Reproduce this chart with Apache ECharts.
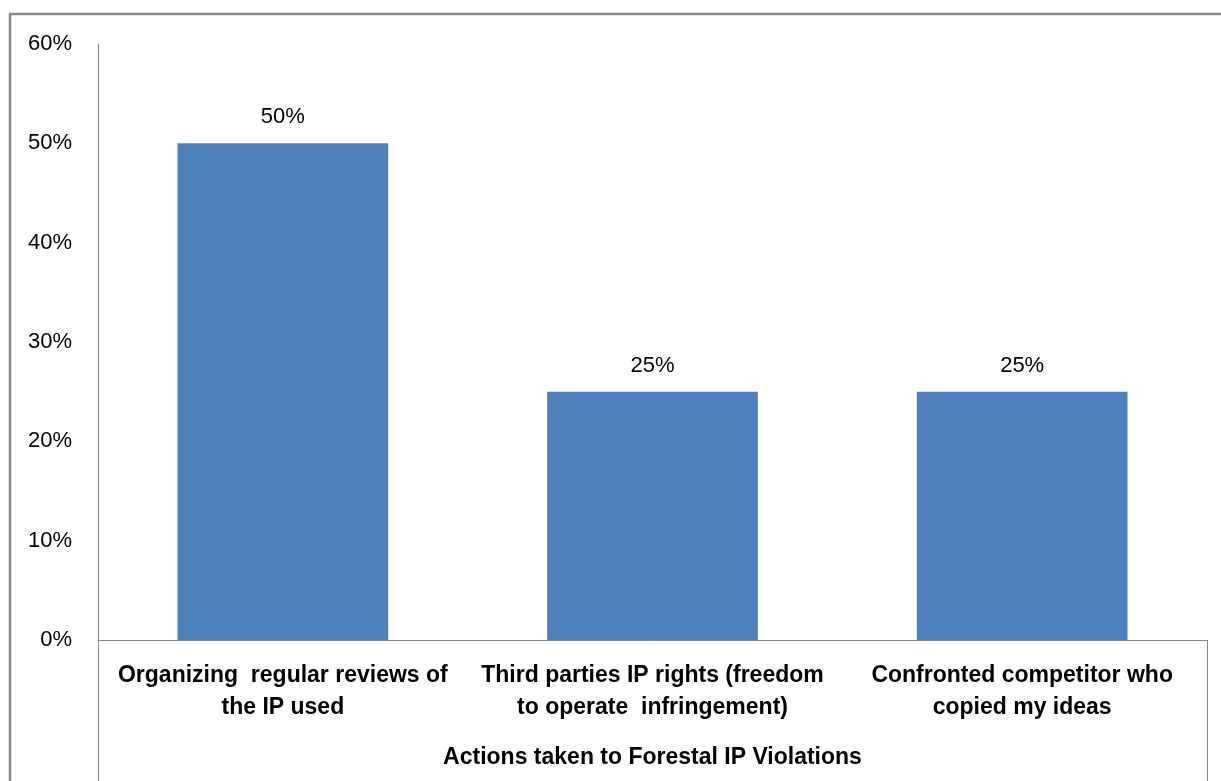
<!DOCTYPE html>
<html>
<head>
<meta charset="utf-8">
<script src="https://cdn.jsdelivr.net/npm/echarts@6/dist/echarts.min.js"></script>
<style>
html,body{margin:0;padding:0;background:#fff;}
#chart{width:1221px;height:781px;}
</style>
</head>
<body>
<div id="chart"></div>
<script>
const categories = [
  "Organizing  regular reviews of\nthe IP used",
  "Third parties IP rights (freedom\nto operate  infringement)",
  "Confronted competitor who\ncopied my ideas"
];
const values = [0.50, 0.25, 0.25];
const yTicks = [0, 0.1, 0.2, 0.3, 0.4, 0.5, 0.6];
const axisTitle = "Actions taken to Forestal IP Violations";

const FONT = "'Liberation Sans', Arial, sans-serif";
const chart = echarts.init(document.getElementById('chart'), null, {renderer: 'canvas'});
const gridLeft = 98, gridRight = 14, gridTop = 44, gridBottom = 141;

chart.setOption({
  animation: false,
  backgroundColor: '#ffffff',
  grid: {left: gridLeft, right: gridRight, top: gridTop, bottom: gridBottom, containLabel: false},
  xAxis: {
    type: 'category',
    data: categories,
    axisLine: {show: true, lineStyle: {color: '#878787', width: 1}},
    axisTick: {show: false},
    axisLabel: {
      interval: 0, margin: 20, color: '#000', fontFamily: FONT,
      fontSize: 23, fontWeight: 'bold', lineHeight: 32, align: 'center'
    },
    name: axisTitle,
    nameLocation: 'middle',
    nameGap: 118,
    nameTextStyle: {color: '#000', fontFamily: FONT, fontSize: 23, fontWeight: 'bold', verticalAlign: 'middle'}
  },
  yAxis: {
    type: 'value',
    min: yTicks[0], max: yTicks[yTicks.length - 1], interval: 0.1,
    axisLine: {show: true, lineStyle: {color: '#878787', width: 1}},
    axisTick: {show: false},
    splitLine: {show: false},
    axisLabel: {
      margin: 26, color: '#000', fontFamily: FONT, fontSize: 22,
      formatter: v => Math.round(v * 100) + '%'
    }
  },
  series: [{
    type: 'bar',
    data: values,
    barWidth: '57%',
    itemStyle: {color: '#4F81BD'},
    label: {
      show: true, position: 'top', distance: 15, color: '#000',
      fontFamily: FONT, fontSize: 22,
      formatter: p => Math.round(p.value * 100) + '%'
    }
  }]
});

// decorative frame lines (chart border and category label box)
const W = 1221, H = 781;
const x0 = gridLeft, x1 = W - gridRight, yAxisY = H - gridBottom;
chart.setOption({
  graphic: [
    {type: 'rect', shape: {x: 10, y: 14, width: 1240, height: 800},
     style: {fill: 'none', stroke: '#898989', lineWidth: 2.5}, silent: true},
    {type: 'line', shape: {x1: x0 + 0.5, y1: yAxisY, x2: x0 + 0.5, y2: H},
     style: {stroke: '#878787', lineWidth: 1}, silent: true},
    {type: 'line', shape: {x1: x1 + 0.5, y1: yAxisY, x2: x1 + 0.5, y2: H},
     style: {stroke: '#878787', lineWidth: 1}, silent: true}
  ]
});
</script>
</body>
</html>
